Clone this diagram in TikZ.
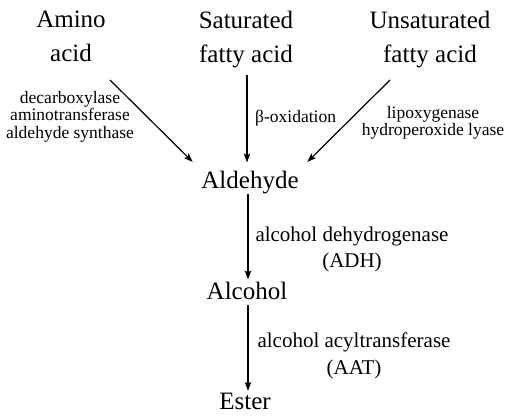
\documentclass[tikz,border=0pt]{standalone}
\usepackage{fontspec}
\setmainfont{Liberation Serif}
\usetikzlibrary{arrows.meta}
\begin{document}
\begin{tikzpicture}[x=1pt,y=-1pt,
  big/.style={font=\fontsize{25}{34}\selectfont, inner sep=0pt, align=center},
  lab/.style={font=\fontsize{17.5}{17.5}\selectfont, inner sep=0pt, align=center},
  enz/.style={font=\fontsize{21}{26.5}\selectfont, inner sep=0pt, align=center},
  arr/.style={line width=1.2pt, -{Stealth[length=9pt,width=6.5pt,inset=2pt]}}]
\useasboundingbox (0,0) rectangle (505,415);
% sources
\node[big, anchor=north] (amino) at (71,11) {Amino\\acid};
\node[big, anchor=north] (sat) at (246,11) {Saturated\\fatty acid};
\node[big, anchor=north] (unsat) at (430,11) {Unsaturated\\fatty acid};
% products
\node[big, anchor=base] (ald) at (250,188) {Aldehyde};
\node[big, anchor=base] (alc) at (247,299) {Alcohol};
\node[big, anchor=base] (est) at (245,409.5) {Ester};
% enzyme labels
\node[lab, anchor=north] (l1) at (70,91) {decarboxylase\\aminotransferase\\aldehyde synthase};
\node[lab, anchor=base west] (l2) at (255,122) {β-oxidation};
\node[lab, anchor=north] (l3) at (433,106) {lipoxygenase\\hydroperoxide lyase};
\node[enz, anchor=north] (l4) at (352,226.7) {alcohol dehydrogenase\\(ADH)};
\node[enz, anchor=north] (l5) at (354,332.7) {alcohol acyltransferase\\(AAT)};
% connectors
\coordinate (s1) at (110,80);
\coordinate (s3) at (390,80);
\draw[arr, shorten >=12pt] (s1) -- (ald.north west);
\draw[arr, shorten >=12pt] (s3) -- (ald.north east);
\draw[arr, shorten <=7pt, shorten >=8pt] ([xshift=1pt]sat.south) -- ([xshift=1pt]sat.south |- ald.north);
\draw[arr, shorten >=2pt] ([xshift=1pt]alc.north |- ald.south) -- ([xshift=1pt]alc.north);
\draw[arr, shorten <=6pt, shorten >=2pt] ([xshift=1pt]alc.south) -- ([xshift=1pt]alc.south |- est.north);
\end{tikzpicture}
\end{document}
